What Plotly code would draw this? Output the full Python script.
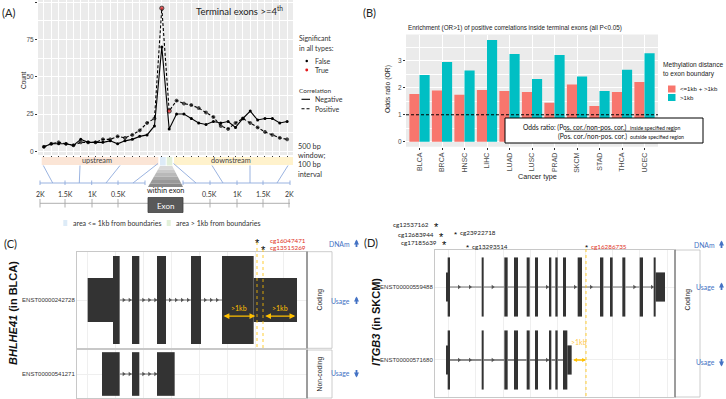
import plotly.graph_objects as go

W, H = 726, 399
def px(x): return x / W
def py(y): return 1 - y / H

FG = "Liberation Sans"   # ggplot text
FP = "Lato"              # slide text
TXT = "#4D4D4D"
RED = "#F8766D"
TEAL = "#00BFC4"
ORANGE = "#FFC000"
BLUE = "#4472C4"

# ---------------- Panel A data ----------------
window_pos = list(range(1, 35))
neg_counts = [3, 5, 5, 5, 4, 8, 6, 6, 6, 7, 5, 7, 8, 10, 11, 17,
              70, 15,
              25, 25, 22, 19, 18, 20, 19, 20, 16, 22, 27, 21, 22, 22, 19, 20]
pos_counts = [3, 5, 6, 5, 4, 6, 6, 6, 8, 8, 10, 9, 11, 14, 19, 22,
              96, 27,
              34, 32, 31, 29, 26, 23, 17, 15, 19, 22, 19, 16, 13, 11, 9, 8]
neg_significant = [False] * 34
pos_significant = [False] * 16 + [True, True] + [False] * 16
y_ticks_a = [0, 25, 50, 75, 100]

# ---------------- Panel B data ----------------
cancer_types = ["BLCA", "BRCA", "HNSC", "LIHC", "LUAD", "LUSC", "PRAD", "SKCM", "STAD", "THCA", "UCEC"]
or_all_dist = [1.77, 1.90, 1.74, 1.92, 1.88, 1.85, 1.45, 2.13, 1.33, 1.85, 2.22]
or_far_dist = [2.48, 2.96, 2.65, 3.78, 3.26, 2.33, 3.22, 2.42, 1.88, 2.67, 3.29]
y_ticks_b = [0, 1, 2, 3]

# ---------------- Panel C data (BHLHE41, relative positions) ----------------
c_tx_ids = ["ENST00000242728", "ENST00000541271"]
c_tx_types = ["Coding", "Non-coding"]
c1_start = [32, 108, 165, 240, 342, 435, 530]
c1_end = [108, 128, 187, 267, 372, 530, 660]
c1_cds = [False, True, True, True, True, True, False]
c2_start = [75, 165, 240]
c2_end = [128, 187, 293]
c2_cds = [True, True, True]
c_cpg_pos = [540, 558]
c_cpg_ids = ["cg16047471", "cg13515269"]
c_dist_from = [435, 560]
c_dist_to = [535, 655]

# ---------------- Panel D data (ITGB3, relative positions) ----------------
d_tx_ids = ["ENST00000559488", "ENST00000571680"]
d1_start = [34, 38, 140, 208, 237, 275, 300, 342, 361, 384, 428, 495, 525, 562, 614, 656, 662]
d1_end = [38, 45, 146, 218, 249, 284, 309, 349, 368, 393, 441, 505, 533, 571, 624, 662, 690]
d1_cds = [False] + [True] * 15 + [False]
d2_start = [34, 38, 140, 208, 237, 275, 300, 342, 361, 384, 397]
d2_end = [38, 45, 146, 218, 249, 284, 309, 349, 368, 397, 410]
d2_cds = [False] + [True] * 9 + [False]
d_cpg_pos = [3, 18, 27, 60, 96, 453]
d_cpg_ids = ["cg12537162", "cg12683944", "cg17185639", "cg23922718", "cg13293514", "cg16286735"]
d_dist_from = [410]
d_dist_to = [453]

fig = go.Figure()

# ---------- Panel A traces ----------
fig.add_trace(go.Scatter(
    x=window_pos, y=neg_counts, mode="lines+markers", xaxis="x", yaxis="y",
    line=dict(color="black", width=1.1),
    marker=dict(size=3, color=["#E41A1C" if s else "black" for s in neg_significant]),
    showlegend=False))
fig.add_trace(go.Scatter(
    x=window_pos, y=pos_counts, mode="lines+markers", xaxis="x", yaxis="y",
    line=dict(color="black", width=1.1, dash="3px,2px"),
    marker=dict(size=[4.2 if s else 3 for s in pos_significant],
                color=["#E41A1C" if s else "black" for s in pos_significant]),
    showlegend=False))

# ---------- Panel B traces ----------
fig.add_trace(go.Bar(x=cancer_types, y=or_all_dist, xaxis="x2", yaxis="y2",
                     marker=dict(color=RED, line=dict(width=0)), width=0.45, offset=-0.45,
                     showlegend=False))
fig.add_trace(go.Bar(x=cancer_types, y=or_far_dist, xaxis="x2", yaxis="y2",
                     marker=dict(color=TEAL, line=dict(width=0)), width=0.45, offset=0.0,
                     showlegend=False))

# ---------- gene structure helpers ----------
def gene_traces(starts, ends, cds, yc, h_cds, h_utr, xa, ya, step, first, line_w=1.0):
    fig.add_trace(go.Bar(
        orientation="h", base=starts, x=[e - s for s, e in zip(starts, ends)],
        y=[yc] * len(starts), width=[h_cds if c else h_utr for c in cds],
        marker=dict(color="#333333", line=dict(width=0)),
        xaxis=xa, yaxis=ya, showlegend=False))
    order = sorted(zip(starts, ends))
    lx, ly, ax_ = [], [], []
    for (s0, e0), (s1, e1) in zip(order, order[1:]):
        if s1 > e0:
            lx += [e0, s1, None]
            ly += [yc, yc, None]
            p = e0 + first
            while p < s1 - 2:
                ax_.append(p)
                p += step
    fig.add_trace(go.Scatter(x=lx, y=ly, mode="lines", line=dict(color="#707070", width=line_w),
                             xaxis=xa, yaxis=ya, showlegend=False))
    fig.add_trace(go.Scatter(x=ax_, y=[yc] * len(ax_), mode="markers",
                             marker=dict(symbol="triangle-right", size=4, color="#555555"),
                             xaxis=xa, yaxis=ya, showlegend=False))

gene_traces(c1_start, c1_end, c1_cds, 0, 1.0, 0.5, "x3", "y3", 18, 12)
gene_traces(c2_start, c2_end, c2_cds, 0, 1.0, 0.5, "x4", "y4", 18, 12)
gene_traces(d1_start, d1_end, d1_cds, 2, 0.81, 0.40, "x5", "y5", 33, 27)
gene_traces(d2_start, d2_end, d2_cds, 1, 0.81, 0.40, "x5", "y5", 33, 27, line_w=1.6)

shapes = []
ann = []

def text(x, y, s, size=7, color="#333", font=FP, xanchor="left", yanchor="middle", angle=0, **kw):
    d = dict(x=x, y=y, xref="paper", yref="paper", text=s, showarrow=False,
             xanchor=xanchor, yanchor=yanchor, textangle=angle,
             font=dict(family=font, size=size, color=color))
    d.update(kw)
    ann.append(d)

def rect(x0, y0, x1, y1, fill, line=None, lw=0, layer="above", xref="paper", yref="paper"):
    shapes.append(dict(type="rect", xref=xref, yref=yref, x0=x0, y0=y0, x1=x1, y1=y1,
                       fillcolor=fill, line=dict(color=line or fill, width=lw), layer=layer))

def seg(x0, y0, x1, y1, color, w=1, dash="solid", xref="paper", yref="paper", layer="above"):
    shapes.append(dict(type="line", xref=xref, yref=yref, x0=x0, y0=y0, x1=x1, y1=y1,
                       line=dict(color=color, width=w, dash=dash), layer=layer))

# gray ggplot panels
rect(0, 0, 1, 1, "#EBEBEB", xref="x domain", yref="y domain", layer="below")
rect(0, 0, 1, 1, "#EBEBEB", xref="x2 domain", yref="y2 domain", layer="below")

# panel labels
text(px(0), py(12), "(A)", size=11, color="#222")
text(px(361), py(12), "(B)", size=11, color="#222")
text(px(2), py(243), "(C)", size=11, color="#222")
text(px(362), py(242), "(D)", size=11, color="#222")

# ---------- Panel A annotations ----------
text(px(239), py(10), "Terminal exons >=4<sup>th</sup>", size=9.5, color="#222", xanchor="center")
text(px(23), py(80), "Count", size=6.5, color="#222", font=FG, xanchor="center", angle=-90)
# legend A
text(px(297), py(38), "Significant", size=7, color="#333")
text(px(297), py(47.5), "in all types:", size=7, color="#333")
shapes.append(dict(type="circle", xref="paper", yref="paper", x0=px(305.5), x1=px(308), y0=py(59.8), y1=py(62.3),
                   fillcolor="black", line=dict(width=0)))
shapes.append(dict(type="circle", xref="paper", yref="paper", x0=px(305.3), x1=px(308.2), y0=py(68.6), y1=py(71.5),
                   fillcolor="#E41A1C", line=dict(width=0)))
text(px(312.5), py(61), "False", size=7, color="#333")
text(px(312.5), py(70), "True", size=7, color="#333")
text(px(297), py(90), "Correlation", size=6.5, color="#333")
seg(px(301.5), py(99.3), px(310), py(99.3), "black", 1.1)
seg(px(301.5), py(108.7), px(310), py(108.7), "black", 1.1, dash="3px,2px")
text(px(312.5), py(99.3), "Negative", size=7, color="#333")
text(px(312.5), py(108.7), "Positive", size=7, color="#333")
for yy, s in zip([146, 155.5, 165, 174], ["500 bp", "window;", "100 bp", "interval"]):
    text(px(296), py(yy), s, size=7.3, color="#333")

# region bands below panel A
rect(px(41.7), py(165), px(158.3), py(157), "#FBE5D6")
rect(px(160), py(165.5), px(165.7), py(157), "#DDEBF7")
rect(px(166.7), py(165.5), px(172.3), py(157), "#E2F0D9")
rect(px(174), py(165), px(293), py(157), "#FFF2CC")
text(px(97), py(161), "upstream", size=7.3, color="#444", xanchor="center")
text(px(231), py(161), "downstream", size=7.3, color="#444", xanchor="center")
# gradient trapezoid
nseg = 6
for i in range(nseg):
    t0, t1 = i / nseg, (i + 1) / nseg
    ya0, ya1 = 166 + 21 * t0, 166 + 21 * t1
    xl0, xl1 = 160 - 12 * t0, 160 - 12 * t1
    xr0, xr1 = 172.3 + 10.7 * t0, 172.3 + 10.7 * t1
    g = int(225 - 95 * (t0 + t1) / 2)
    path = (f"M {px(xl0)} {py(ya0)} L {px(xr0)} {py(ya0)} L {px(xr1)} {py(ya1)} "
            f"L {px(xl1)} {py(ya1)} Z")
    shapes.append(dict(type="path", xref="paper", yref="paper", path=path,
                       fillcolor=f"rgb({g},{g},{g})", line=dict(width=0)))
text(px(165.5), py(190), "within exon", size=7.3, color="#222", xanchor="center")
# brackets
LB = "#8FAADC"
up_ticks = [40, 65, 91.7, 118, 145]
dn_ticks = [183, 210, 237, 263, 290]
for tk in (up_ticks, dn_ticks):
    seg(px(tk[0]), py(183), px(tk[-1]), py(183), LB, 0.9)
    for t in tk:
        seg(px(t), py(180.5), px(t), py(185), LB, 0.9)
diag = [(43.3, 165.5, 52.7, 183), (80, 165.5, 79.3, 183), (120, 165.5, 106, 183), (158, 163.5, 133, 183),
        (173.5, 163.5, 196, 183), (212, 165.5, 223, 183), (250, 165.5, 250, 183), (288, 165.5, 277, 183)]
for x0, y0, x1, y1 in diag:
    seg(px(x0), py(y0), px(x1), py(y1), LB, 0.9)
# ruler
for xx, s in zip([40, 65, 92, 118, 210, 237, 263, 289], ["2K", "1.5K", "1K", "0.5K", "0.5K", "1K", "1.5K", "2K"]):
    text(px(xx), py(193.5), s, size=7, color="#333", xanchor="center")
    seg(px(xx), py(199), px(xx), py(207.5), "#A6A6A6", 0.9)
seg(px(40), py(203.3), px(290), py(203.3), "#A6A6A6", 0.9)
rect(px(148), py(212.5), px(183), py(197.5), "#595959", "#404040", 0.8)
text(px(165.5), py(205.5), "Exon", size=8, color="white", xanchor="center")
rect(px(63.3), py(226), px(67.3), py(220), "#DDEBF7")
text(px(70.5), py(223), "area <= 1kb from boundaries", size=7, color="#333")
rect(px(166.7), py(226), px(170.7), py(220), "#E2F0D9")
text(px(174), py(223), "area > 1kb from boundaries", size=7, color="#333")

# ---------- Panel B annotations ----------
text(px(406), py(28), "Enrichment (OR>1) of positive correlations inside terminal exons (all P<0.05)",
     size=6.3, color="#222", font=FG)
text(px(388), py(89), "Odds ratio (OR)", size=6.8, color="#222", font=FG, xanchor="center", angle=-90)
text(px(537), py(177), "Cancer type", size=7.2, color="#222", font=FG, xanchor="center")
seg(0, 1, 1, 1, "black", 1, dash="3px,2px", xref="x2 domain", yref="y2")
rect(px(505), py(143), px(703), py(118), "white", "black", 1)
text(px(628.5), py(127), "Odds ratio: (Pos. cor./non-pos. cor.)", size=6.7, color="#111", xanchor="right")
text(px(628), py(127.5), "inside specified region", size=5.2, color="#111")
text(px(628.5), py(136.5), "(Pos. cor./non-pos. cor.)", size=6.7, color="#111", xanchor="right")
text(px(628), py(137), "outside specified region", size=5.2, color="#111")
seg(px(565), py(131.2), px(676), py(131.2), "black", 0.8)
# legend B
text(px(661), py(65), "Methylation distance", size=6.6, color="#222", font=FG)
text(px(661), py(73.5), "to exon boundary", size=6.6, color="#222", font=FG)
rect(px(668), py(92.5), px(675.5), py(85.5), RED)
rect(px(668), py(101), px(675.5), py(94), TEAL)
text(px(678), py(89), "<=1kb + >1kb", size=6.1, color="#222", font=FG)
text(px(678), py(97.5), ">1kb", size=6.1, color="#222", font=FG)

# ---------- Panel C annotations ----------
text(px(13), py(313), "<b><i>BHLHE41</i> (in BLCA)</b>", size=11, color="#111", font=FG,
     xanchor="center", angle=-90)
rect(px(307), py(348.3), px(332), py(251.7), "white", "#BFBFBF", 0.8)
rect(px(307), py(398), px(332), py(350), "white", "#BFBFBF", 0.8)
seg(px(307), py(251.7), px(307), py(348.3), "#555555", 1)
seg(px(307), py(350), px(307), py(398), "#555555", 1)
text(px(319.5), py(300), "Coding", size=6.8, color="#222", font=FG, xanchor="center", angle=-90)
text(px(319.5), py(374), "Non-coding", size=6.8, color="#222", font=FG, xanchor="center", angle=-90)
c_star_y = [240, 247]
for pos, cid, yy in zip(c_cpg_pos, c_cpg_ids, c_star_y):
    seg(pos, py(yy + 2), pos, py(348.3), ORANGE, 0.8, dash="dot", xref="x3")
    ann.append(dict(x=pos, y=py(yy + 3), xref="x3", yref="paper", text="*", showarrow=False,
                    xanchor="center", yanchor="middle", font=dict(family=FG, size=11, color="black")))
    text(px(268), py(yy), cid, size=6.3, color="#E0301E")
for a, b in zip(c_dist_from, c_dist_to):
    ann.append(dict(x=b, y=-0.183, ax=a, ay=-0.183, xref="x3", yref="y3", axref="x3", ayref="y3",
                    text="", showarrow=True, arrowhead=2, arrowside="end+start", arrowsize=0.9,
                    arrowwidth=1.3, arrowcolor=ORANGE))
    ann.append(dict(x=(a + b) / 2, y=-0.09, xref="x3", yref="y3", text=">1kb", showarrow=False,
                    font=dict(family=FP, size=7, color=ORANGE)))

def blue_label(x, y, s, up=True):
    text(px(x), py(y), s, size=6.8, color=BLUE, xanchor="right")
    ann.append(dict(x=px(x + 4.5), y=py(y - 4.5) if up else py(y + 4.5), xref="paper", yref="paper",
                    ax=0, ay=9 if up else -9, text="", showarrow=True, arrowhead=2,
                    arrowsize=0.55, arrowwidth=1.8, arrowcolor=BLUE))

blue_label(352, 244, "DNAm", True)
blue_label(352, 301, "Usage", True)
blue_label(352, 373, "Usage", False)

# ---------- Panel D annotations ----------
text(px(376), py(322), "<b><i>ITGB3</i> (in SKCM)</b>", size=11, color="#111", font=FG,
     xanchor="center", angle=-90)
rect(px(675), py(397), px(700), py(250), "white", "#BFBFBF", 0.8)
seg(px(675), py(250), px(675), py(397), "#555555", 1)
text(px(687.5), py(300), "Coding", size=6.8, color="#222", font=FG, xanchor="center", angle=-90)
d_star_y = [224, 234, 242, 232.5, 246, 246]
d_label_left = [True, True, True, False, False, False]
d_label_red = [False, False, False, False, False, True]
for pos, cid, yy, left, red in zip(d_cpg_pos, d_cpg_ids, d_star_y, d_label_left, d_label_red):
    big = left
    ann.append(dict(x=pos, y=py(yy + (3 if big else 1.5)), xref="x5", yref="paper", text="*",
                    showarrow=False, xanchor="center", yanchor="middle",
                    font=dict(family=FG, size=11 if big else 8, color="black")))
    xpix = 435 + pos / 3
    if left:
        text(px(xpix - 5), py(yy), cid, size=6.3, color="#222", xanchor="right")
    else:
        text(px(xpix + 3), py(yy), cid, size=6.3, color="#E0301E" if red else "#222")
    if red:
        seg(pos, py(yy + 3), pos, py(397), ORANGE, 0.8, dash="dot", xref="x5")
for a, b in zip(d_dist_from, d_dist_to):
    ann.append(dict(x=b, y=1, ax=a, ay=1, xref="x5", yref="y5", axref="x5", ayref="y5",
                    text="", showarrow=True, arrowhead=2, arrowside="end+start", arrowsize=0.6,
                    arrowwidth=1.3, arrowcolor=ORANGE))
    ann.append(dict(x=(a + b) / 2, y=1.25, xref="x5", yref="y5", text=">1kb", showarrow=False,
                    font=dict(family=FP, size=7, color="#FFC94D")))
blue_label(717, 245, "DNAm", True)
blue_label(717, 287, "Usage", True)
blue_label(717, 362, "Usage", False)

# ---------- axes ----------
gg_tick = dict(family=FG, size=6.5, color=TXT)
layout = dict(
    width=W, height=H, margin=dict(l=0, r=0, t=0, b=0),
    paper_bgcolor="white", plot_bgcolor="white", barmode="overlay",
    showlegend=False, shapes=shapes, annotations=ann,
    xaxis=dict(domain=[px(38), px(293)], range=[0.2, 34.8], anchor="y",
               tick0=1, dtick=1, showgrid=True, gridcolor="white", gridwidth=0.6,
               ticks="outside", ticklen=2, tickcolor="#333", showticklabels=False,
               zeroline=False, showline=False),
    yaxis=dict(domain=[py(155), py(0)], range=[-2.5, 101.5], anchor="x",
               tickvals=y_ticks_a, showgrid=True, gridcolor="white", gridwidth=1,
               minor=dict(tickvals=[12.5, 37.5, 62.5, 87.5], showgrid=True, gridcolor="white",
                          gridwidth=0.5, ticks=""),
               ticks="outside", ticklen=2, tickcolor="#333", tickfont=gg_tick,
               zeroline=False, showline=False),
    xaxis2=dict(domain=[px(406), px(658)], range=[-0.6, 10.6], anchor="y2", type="category",
                showgrid=True, gridcolor="white", gridwidth=1, ticks="outside", ticklen=2,
                tickcolor="#333", tickangle=-90, tickfont=dict(family=FG, size=7, color=TXT),
                zeroline=False, showline=False),
    yaxis2=dict(domain=[py(146.8), py(34.6)], range=[-0.19, 3.98], anchor="x2",
                tickvals=y_ticks_b, showgrid=True, gridcolor="white", gridwidth=1,
                minor=dict(tickvals=[0.5, 1.5, 2.5, 3.5], showgrid=True, gridcolor="white",
                           gridwidth=0.5, ticks=""),
                ticks="outside", ticklen=2, tickcolor="#333", tickfont=gg_tick,
                zeroline=False, showline=False),
)
gs_x = dict(showgrid=True, gridcolor="#EFEFEF", gridwidth=0.6, showticklabels=False, ticks="",
            zeroline=False, showline=True, linecolor="#C8C8C8", linewidth=1, mirror=True)
gs_y = dict(showgrid=True, gridcolor="#EFEFEF", gridwidth=0.6, ticks="", zeroline=False,
            showline=True, linecolor="#C8C8C8", linewidth=1, mirror=True,
            tickfont=dict(family=FG, size=6, color="#333"))
layout["xaxis3"] = dict(domain=[px(77), px(307)], range=[0, 690], anchor="y3", tick0=32, dtick=84, **gs_x)
layout["yaxis3"] = dict(domain=[py(348.3), py(251.7)], range=[-0.55, 0.55], anchor="x3",
                        tickvals=[0], ticktext=[c_tx_ids[0]], **gs_y)
layout["xaxis4"] = dict(domain=[px(77), px(307)], range=[0, 690], anchor="y4", tick0=32, dtick=84,
                        matches="x3", **gs_x)
layout["yaxis4"] = dict(domain=[py(398), py(350)], range=[-0.55, 0.55], anchor="x4",
                        tickvals=[0], ticktext=[c_tx_ids[1]], **gs_y)
layout["xaxis5"] = dict(domain=[px(435), px(675)], range=[0, 720], anchor="y5", tick0=40, dtick=82, **gs_x)
layout["yaxis5"] = dict(domain=[py(397), py(250)], range=[0.493, 2.507], anchor="x5",
                        tickvals=[2, 1], ticktext=d_tx_ids, **gs_y)

fig.update_layout(**layout)
fig.write_html("out.html", config={"displayModeBar": False},
               post_script="document.body.style.margin='0';document.body.style.overflow='hidden';")
